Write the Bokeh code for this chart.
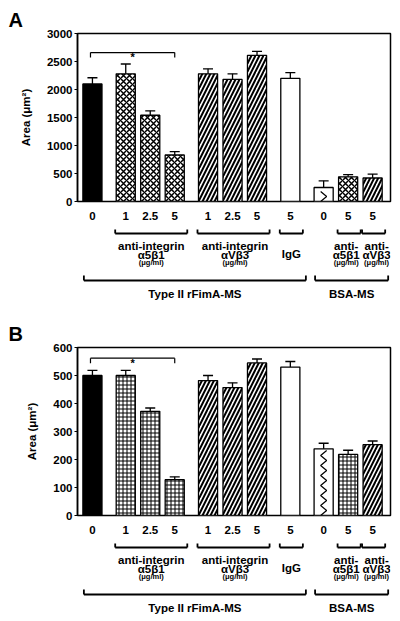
import numpy as np
from bokeh.plotting import figure
from bokeh.models import Range1d, FixedTicker
from bokeh.layouts import column
from bokeh.core.properties import value
from bokeh.embed import file_html
from bokeh.resources import INLINE

# ---------------- data ----------------
categories = ["0", "1", "2.5", "5", "1", "2.5", "5", "5", "0", "5", "5"]
group_sizes = [1, 3, 3, 1, 3]
bar_kinds = ["solid", "a5b1", "a5b1", "a5b1", "avb3", "avb3", "avb3",
             "igg", "zigzag", "a5b1", "avb3"]

a_values = [2100, 2280, 1540, 830, 2280, 2180, 2610, 2200, 250, 440, 420]
a_errors = [110, 175, 80, 60, 90, 100, 70, 100, 120, 40, 70]
a_ticks = [0, 500, 1000, 1500, 2000, 2500, 3000]

b_values = [500, 500, 372, 128, 482, 457, 545, 530, 238, 218, 253]
b_errors = [18, 18, 12, 10, 18, 17, 14, 20, 20, 15, 13]
b_ticks = [0, 100, 200, 300, 400, 500, 600]

sub_groups = [
    (1, 3, ["anti-integrin", "α5β1", "(μg/ml)"]),
    (4, 6, ["anti-integrin", "αVβ3", "(μg/ml)"]),
    (7, 7, ["IgG"]),
    (9, 9, ["anti-", "α5β1", "(μg/ml)"]),
    (10, 10, ["anti-", "αVβ3", "(μg/ml)"]),
]
super_groups = [(0, 7, "Type II rFimA-MS"), (8, 10, "BSA-MS")]

a_sig = (0, 3, 2660)
b_sig = (0, 3, 562)

y_axis_label = "Area (μm²)"

# ---------------- layout constants ----------------
FONT = "Liberation Sans"
W = 400
LEFT_B = 77
RIGHT_B = 10
TOP_B = 33
BOT_B = 8
AXIS_PX = 168
X_START, X_END = -0.61, 12.17
GAP = 1.36
BAR_W = 0.78
PXX = (X_END - X_START) / (W - LEFT_B - RIGHT_B)   # x data units per pixel
SUB_TEXT_DX = [0, 1.5, 0, -3, 3]                   # px shifts of group texts

pos = []
cur = 0.0
for gi, n in enumerate(group_sizes):
    for j in range(n):
        if pos:
            cur += GAP if j == 0 else 1.0
        pos.append(cur)
pos = np.array(pos)

x_range = Range1d(X_START, X_END)


def make_plot(letter, values, errors, ticks, sig, a5b1_style):
    ymax = ticks[-1]
    u = ymax / AXIS_PX
    p = figure(width=W, height=TOP_B + AXIS_PX + BOT_B, output_backend="svg",
               toolbar_location=None, x_range=x_range, y_range=Range1d(0, ymax),
               x_axis_location=None, min_border_left=LEFT_B, min_border_right=RIGHT_B,
               min_border_top=TOP_B, min_border_bottom=BOT_B)
    p.outline_line_color = "black"
    p.outline_line_width = 1.5
    p.outline_line_alpha = 1
    p.grid.visible = False

    p.title.text = letter
    p.title.align = "left"
    p.title.offset = -69
    p.title.standoff = 5
    p.title.text_font = FONT
    p.title.text_font_style = "bold"
    p.title.text_font_size = "20px"
    p.title.text_color = "black"
    p.title.vertical_align = "bottom"

    ax = p.yaxis[0]
    ax.ticker = FixedTicker(ticks=ticks)
    ax.axis_line_width = 1.5
    ax.axis_line_color = "black"
    ax.major_tick_out = 3
    ax.major_tick_in = 0
    ax.major_tick_line_width = 1.2
    ax.major_tick_line_color = "black"
    ax.minor_tick_line_color = None
    ax.major_label_text_font = FONT
    ax.major_label_text_font_style = "bold"
    ax.major_label_text_font_size = "11.5px"
    ax.major_label_text_color = "black"
    ax.major_label_standoff = 2
    ax.axis_label = y_axis_label
    ax.axis_label_text_font = FONT
    ax.axis_label_text_font_style = "bold"
    ax.axis_label_text_font_size = "11.5px"
    ax.axis_label_text_color = "black"
    ax.axis_label_standoff = 12

    vals = np.array(values, dtype=float)
    errs = np.array(errors, dtype=float)
    kinds = np.array(bar_kinds)

    def bars(kind, **kw):
        m = kinds == kind
        if m.any():
            p.vbar(x=pos[m], top=vals[m], bottom=0, width=BAR_W,
                   line_color="black", line_width=1.3, **kw)

    bars("solid", fill_color="black")
    bars("igg", fill_color="white")
    bars("zigzag", fill_color="white")
    bars("a5b1", fill_color="white", hatch_color="black", **a5b1_style)
    bars("avb3", fill_color="white", hatch_color="black",
         hatch_pattern="right_diagonal_line", hatch_scale=8, hatch_weight=2)

    # zigzag decoration inside the zigzag bar
    for i in np.where(kinds == "zigzag")[0]:
        step = 5 * u
        n = int(vals[i] // step)
        ys = [0.0] + [step * (k + 1) for k in range(n)]
        xs = [pos[i] + (3 * PXX if k % 2 else -3 * PXX) for k in range(len(ys))]
        p.line(xs, ys, line_color="black", line_width=1.2)

    # error bars (upper only)
    cap = 5 * PXX
    p.segment(x0=pos, y0=vals, x1=pos, y1=vals + errs, line_color="black", line_width=1.3)
    p.segment(x0=pos - cap, y0=vals + errs, x1=pos + cap, y1=vals + errs,
              line_color="black", line_width=1.3)

    # significance bracket
    i0, i1, ys = sig
    xa, xb = pos[i0] - 0.08, pos[i1]
    p.segment(x0=[xa, xa, xb], y0=[ys, ys, ys], x1=[xb, xa, xb],
              y1=[ys, ys - 5 * u, ys - 5 * u], line_color="black", line_width=1.2)
    p.text(x=[(xa + xb) / 2], y=[ys - 4.5 * u], text=["*"], text_font=value(FONT),
           text_font_style="bold", text_font_size="11px", text_align="center",
           text_baseline="alphabetic", text_color="black")
    return p


def make_annotations(height):
    p = figure(width=W, height=height, output_backend="svg", toolbar_location=None,
               x_range=x_range, y_range=Range1d(-(BOT_B + height), -BOT_B),
               x_axis_location=None, y_axis_location=None,
               min_border_left=LEFT_B, min_border_right=RIGHT_B,
               min_border_top=0, min_border_bottom=0)
    p.outline_line_color = None
    p.grid.visible = False

    tkw = dict(text_font=value(FONT), text_font_style="bold", text_align="center",
               text_baseline="middle", text_color="black")

    # category labels
    p.text(x=pos, y=[-14.5] * len(pos), text=categories, text_font_size="11.5px", **tkw)

    # sub-group brackets and labels
    for (s, e, lines), dx in zip(sub_groups, SUB_TEXT_DX):
        xl = pos[s] - BAR_W / 2 - 1 * PXX
        xr = pos[e] + BAR_W / 2 + 3 * PXX
        yb = -32
        p.segment(x0=[xl, xl, xr], y0=[yb, yb, yb], x1=[xr, xl, xr],
                  y1=[yb, yb + 4, yb + 4], line_color="black", line_width=1.8)
        xc = (xl + xr) / 2 + dx * PXX
        if len(lines) == 1:
            p.text(x=[xc], y=[-52.5], text=lines, text_font_size="11.5px", **tkw)
        else:
            p.text(x=[xc], y=[-44], text=[lines[0]], text_font_size="11.5px", **tkw)
            p.text(x=[xc], y=[-53], text=[lines[1]], text_font_size="11.5px", **tkw)
            p.text(x=[xc], y=[-61], text=[lines[2]], text_font_size="7.5px", **tkw)

    # super-group brackets and labels
    for s, e, txt in super_groups:
        xl = pos[s] - BAR_W / 2 + 1 * PXX
        xr = pos[e] + BAR_W / 2 + 6 * PXX
        yb = -79
        p.segment(x0=[xl, xl, xr], y0=[yb, yb, yb], x1=[xr, xl, xr],
                  y1=[yb, yb + 5, yb + 5], line_color="black", line_width=1.8)
        p.text(x=[(xl + xr) / 2], y=[-92.5], text=[txt], text_font_size="11.5px", **tkw)
    return p


pa = make_plot("A", a_values, a_errors, a_ticks, a_sig,
               dict(hatch_pattern="diagonal_cross", hatch_scale=6, hatch_weight=1.5))
aa = make_annotations(105)
pb = make_plot("B", b_values, b_errors, b_ticks, b_sig,
               dict(hatch_pattern="cross", hatch_scale=4, hatch_weight=1))
ab = make_annotations(98)

layout = column(pa, aa, pb, ab, spacing=0)
open("out.html", "w").write(file_html(layout, INLINE))
